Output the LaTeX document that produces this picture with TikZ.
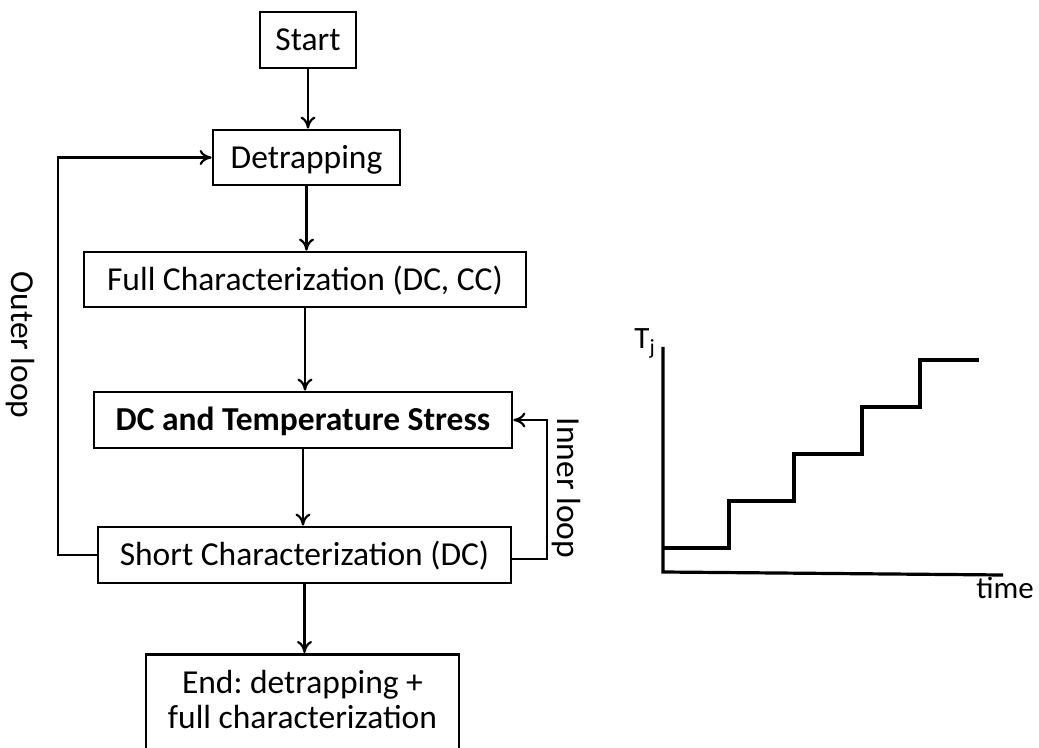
\documentclass[tikz,border=0pt]{standalone}
\usepackage{fontspec}
\setmainfont{Carlito}
\usetikzlibrary{arrows.meta}
\frenchspacing
\begin{document}
\begin{tikzpicture}[x=0.5pt,y=-0.5pt,
  boxnode/.style={draw, line width=1.4pt, inner sep=0pt,
    font=\fontsize{16.75}{17.5}\selectfont, text height=10.6pt, text depth=0pt},
  arr/.style={line width=1.1pt, -{To[length=6pt,width=7.5pt,line width=1.1pt]}},
  looplabel/.style={font=\fontsize{16.75}{17.5}\selectfont, rotate=-90, anchor=base, inner sep=0pt},
  graphline/.style={line width=1.6pt, line join=miter}
]
\useasboundingbox (0,0) rectangle (1039,748);
\clip (0,0) rectangle (1039,748);

\node[boxnode, minimum width=48pt, minimum height=28pt] (start) at (308,40) {Start};
\node[boxnode, minimum width=93.5pt, minimum height=27.5pt] (detr) at (306.5,157.5) {Detrapping};
\node[boxnode, minimum width=221pt, minimum height=27.5pt] (full) at (305,279.5) {Full Characterization (DC, CC)};
\node[boxnode, minimum width=209pt, minimum height=28pt, font=\fontsize{16.75}{17.5}\selectfont\bfseries] (stress) at (303,420) {DC and Temperature Stress};
\node[boxnode, minimum width=206.5pt, minimum height=28pt] (short) at (304.5,555) {Short Characterization (DC)};
\node[boxnode, minimum width=156.5pt, anchor=north, inner ysep=7.5pt, text height=12pt, text depth=45pt] (end) at (302.5,653)
  {\begin{tabular}[t]{@{}c@{}}End: detrapping +\\full characterization\end{tabular}};

\draw[arr] (start.south) -- (start.south |- detr.north);
\draw[arr] (detr.south) -- (detr.south |- full.north);
\draw[arr] (full.south) -- (full.south |- stress.north);
\draw[arr] (stress.south) -- (stress.south |- short.north);
\draw[arr] (short.south) -- (short.south |- end.north);

\coordinate (olx) at (58,0);
\coordinate (ilx) at (547,0);
\draw[arr] (short.west) -- (short.west -| olx) -- (detr.west -| olx) -- (detr.west);
\draw[arr] ([yshift=-2pt]short.east) -- ([yshift=-2pt]short.east -| ilx) -- (stress.east -| ilx) -- (stress.east);

\node[looplabel] (outerlbl) at (11,345) {Outer loop};
\node[looplabel] (innerlbl) at (557,488) {Inner loop};

% graph
\draw[graphline] (663,347) -- (663,572) -- (1003,575);
\draw[graphline] (663,548) -- (729,548) -- (729,501) -- (794,501) -- (794,454)
  -- (862,454) -- (862,407) -- (920,407) -- (920,360) -- (979,360);
\node[anchor=base west, inner sep=0pt, font=\fontsize{15.5}{17}\selectfont] (tj) at (634,349) {T\textsubscript{j}};
\node[anchor=base west, inner sep=0pt, font=\fontsize{15.5}{17}\selectfont] (time) at (976,598) {time};
\end{tikzpicture}
\end{document}
